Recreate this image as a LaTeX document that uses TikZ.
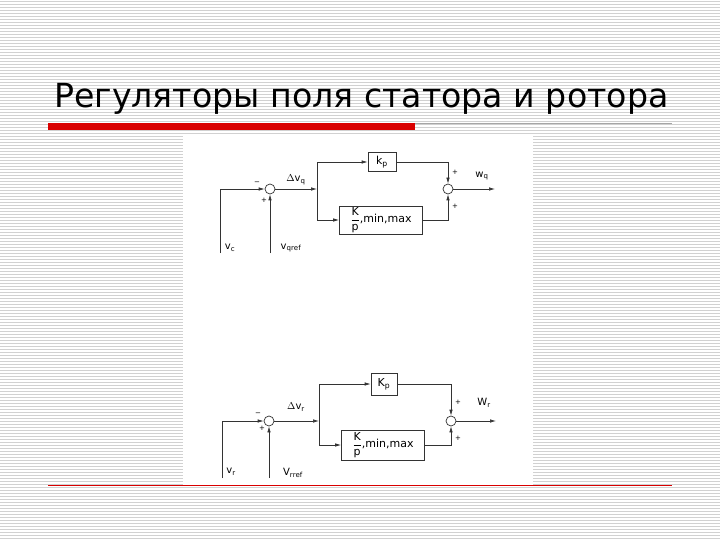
\documentclass[tikz,border=0pt]{standalone}
\usepackage{fontspec}
\setmainfont{DejaVu Sans}
\usetikzlibrary{arrows.meta}
\begin{document}
\begin{tikzpicture}[x=1pt,y=-1pt,
  wire/.style={line width=0.7pt,black!80},
  arr/.style={wire,-{Latex[length=6pt,width=3.5pt]}},
  sumc/.style={circle,draw=black!80,line width=0.7pt,minimum size=10pt,inner sep=0pt},
  blk/.style={draw=black!80,line width=0.7pt,inner sep=0pt,font=\fontsize{11}{12}\selectfont},
  lbl/.style={font=\fontsize{10}{10}\selectfont,inner sep=0pt},
  sg/.style={font=\fontsize{7}{7}\selectfont,inner sep=0pt}]
\useasboundingbox (0,0) rectangle (720,540);
\fill[white] (0,0) rectangle (720,540);
\foreach \i in {0,...,179} \draw[black!18,line width=0.8pt] (0,\i*3+1.5) -- (720,\i*3+1.5);
\fill[white] (183,135) rectangle (533,485);
\node[anchor=west,inner sep=0pt,font=\fontsize{33.2}{36}\selectfont] (title) at (54,99) {Регуляторы поля статора и ротора};
\draw[red!85!black,line width=7pt] (48,127) -- (415,127);
\draw[black!35,line width=0.8pt] (415,123) -- (672,123);
\draw[red!85!black,line width=1pt] (48,485) -- (672,485);
% top
\node[sumc] (s1) at (270,189) {};
\node[sumc] (s2) at (448,189) {};
\node[blk,minimum width=28pt,minimum height=19pt] (kp1) at (382,162) {k$_\mathrm{p}$};
\node[blk,minimum width=83pt,minimum height=28pt] (pi1) at (381,220) {$\displaystyle\frac{\mbox{K}}{\mbox{p}}$,min,max};
\coordinate (a1) at (220,253); \coordinate (b1) at (270,253);
\coordinate (j1) at (317,189); \coordinate (o1) at (495,189);
\draw[arr] (a1) |- (s1.west);
\draw[arr] (b1) -- (s1.south);
\draw[arr] (s1.east) -- (j1);
\draw[arr] (j1) |- (kp1.west);
\draw[arr] (j1) |- (pi1.west);
\draw[arr] (kp1.east) -| (s2.north);
\draw[arr] (pi1.east) -| (s2.south);
\draw[arr] (s2.east) -- (o1);
\node[lbl] (l1) at (230,248) {v$_\mathrm{c}$};
\node[lbl] (l2) at (291,248) {v$_\mathrm{qref}$};
\node[lbl] (l3) at (296,180) {$\Delta$v$_\mathrm{q}$};
\node[lbl] (l4) at (482,176) {w$_\mathrm{q}$};
\node[sg] (m1) at (257,183) {−};
\node[sg] (p1) at (264,200) {+};
\node[sg] (p2) at (455,172) {+};
\node[sg] (p3) at (455,206) {+};
% bottom
\node[sumc] (t1) at (269,421) {};
\node[sumc] (t2) at (451,421) {};
\node[blk,minimum width=26pt,minimum height=22pt] (kp2) at (384,384) {K$_\mathrm{p}$};
\node[blk,minimum width=83pt,minimum height=30pt] (pi2) at (383,445) {$\displaystyle\frac{\mbox{K}}{\mbox{p}}$,min,max};
\coordinate (a2) at (222,478); \coordinate (b2) at (269,478);
\coordinate (j2) at (319,421); \coordinate (o2) at (496,421);
\draw[arr] (a2) |- (t1.west);
\draw[arr] (b2) -- (t1.south);
\draw[arr] (t1.east) -- (j2);
\draw[arr] (j2) |- (kp2.west);
\draw[arr] (j2) |- (pi2.west);
\draw[arr] (kp2.east) -| (t2.north);
\draw[arr] (pi2.east) -| (t2.south);
\draw[arr] (t2.east) -- (o2);
\node[lbl] (k1) at (231,472) {v$_\mathrm{r}$};
\node[lbl] (k2) at (293,473) {V$_\mathrm{rref}$};
\node[lbl] (k3) at (296,407) {$\Delta$v$_\mathrm{r}$};
\node[lbl] (k4) at (484,403) {W$_\mathrm{r}$};
\node[sg] (n1) at (258,414) {−};
\node[sg] (q1) at (262,428) {+};
\node[sg] (q2) at (458,402) {+};
\node[sg] (q3) at (458,438) {+};
\end{tikzpicture}
\end{document}
